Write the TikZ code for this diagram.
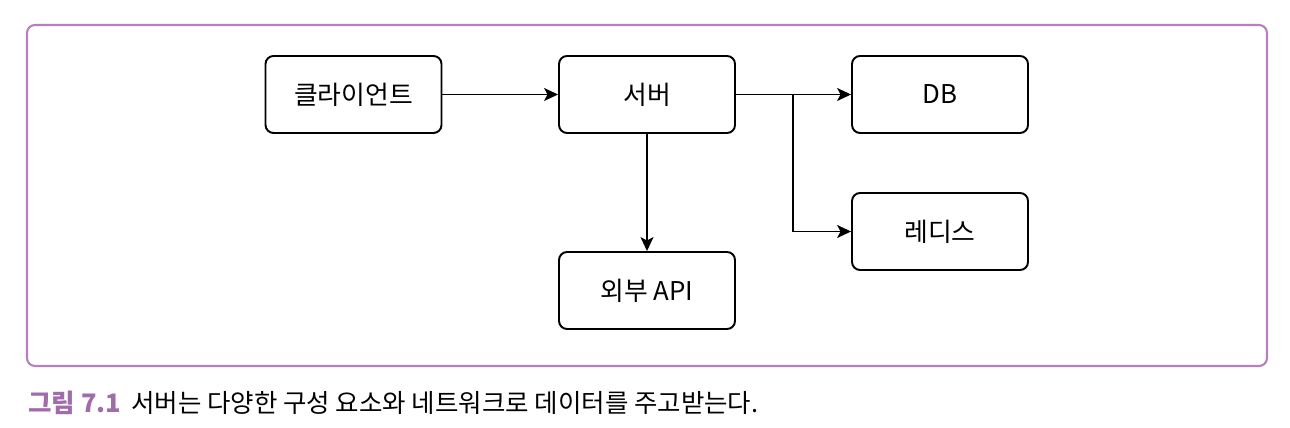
\documentclass[tikz,border=0pt]{standalone}
\usepackage{fontspec}
\setmainfont{Noto Sans CJK KR}
\usetikzlibrary{arrows.meta}
\definecolor{morado}{HTML}{B580BD}
\definecolor{moradotit}{HTML}{A06CAA}

\begin{document}
\begin{tikzpicture}[
  x=0.02cm, y=-0.02cm,
  bloque/.style={draw, rounded corners=0.16cm, line width=1.1pt, align=center,
                 minimum width=3.52cm, minimum height=1.54cm, inner sep=0pt,
                 font=\fontsize{14.7}{17}\selectfont},
  enlace/.style={-{Stealth[length=0.28cm, width=0.26cm, inset=0.07cm]}, line width=1pt},
  marco/.style={draw=morado, line width=1.2pt, rounded corners=0.16cm}
]
  \useasboundingbox (0,0) rectangle (1290,428);
  \draw[marco] (27,25) rectangle (1267,366);
  \node[bloque] (cliente) at (353.5,94.5) {클라이언트};
  \node[bloque] (servidor) at (647,94.5) {서버};
  \node[bloque] (db) at (940,94.5) {DB};
  \node[bloque] (redis) at (940,231.5) {레디스};
  \node[bloque] (api) at (647,290.5) {외부 API};
  \coordinate (rama) at (793,94.5);
  \draw[enlace] (cliente) -- (servidor);
  \draw[enlace] (servidor) -- (db);
  \draw[enlace] (rama) |- (redis);
  \draw[enlace] (servidor) -- (api);
  \node[anchor=base west, inner sep=0pt, font=\fontsize{14.5}{17}\selectfont] (pie) at (28,413)
    {\textcolor{moradotit}{\bfseries 그림 7.1}\hspace{0.4em}서버는 다양한 구성 요소와 네트워크로 데이터를 주고받는다.};
\end{tikzpicture}
\end{document}
